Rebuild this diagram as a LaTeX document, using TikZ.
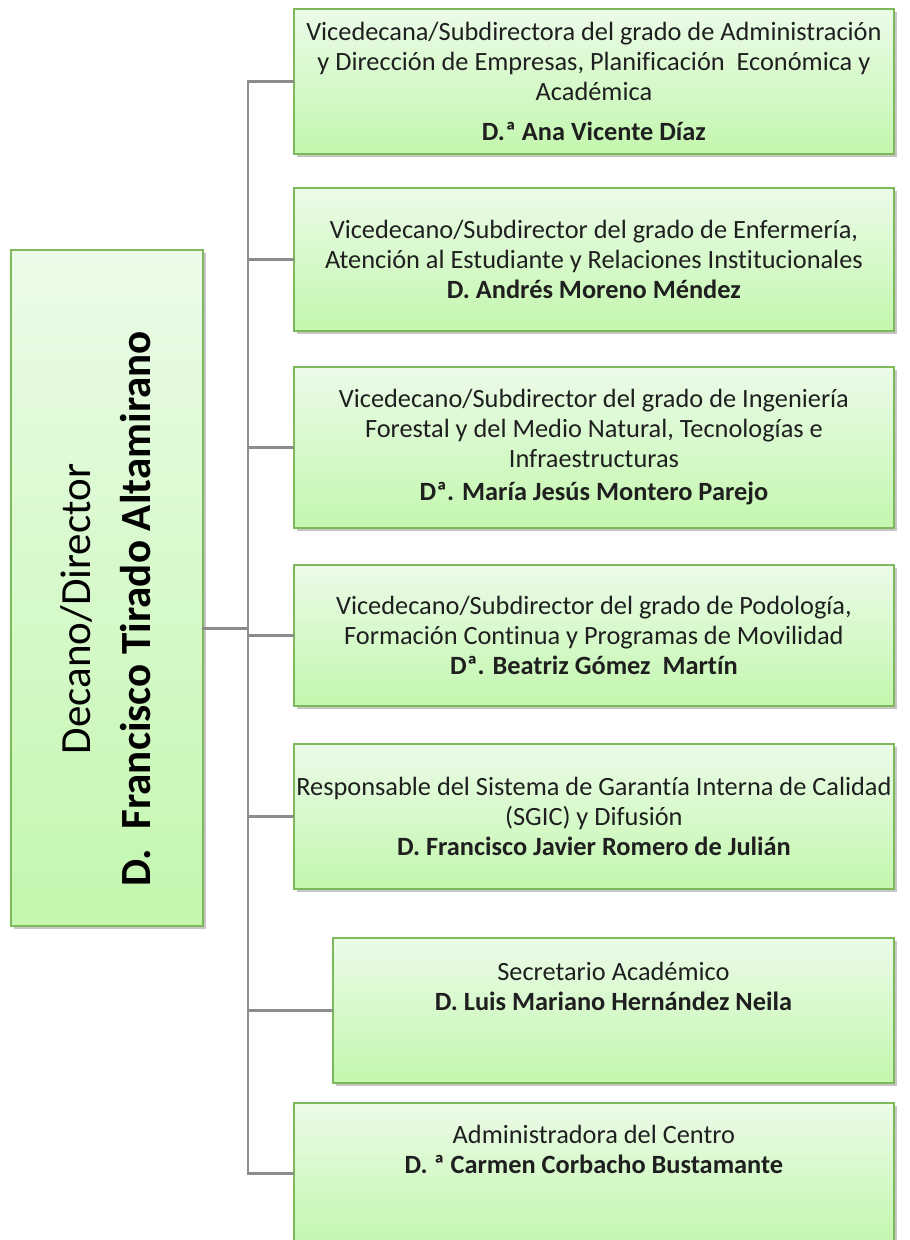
\documentclass[tikz,border=0pt]{standalone}
\usepackage{fontspec}
\setmainfont{Carlito}[Ligatures=NoCommon]
\usepackage{tikz}
\usetikzlibrary{shadows, calc, positioning}
\definecolor{boxtop}{HTML}{EBFBE8}
\definecolor{boxbottom}{HTML}{C3F7AE}
\definecolor{boxline}{HTML}{7DB85A}
\definecolor{linkgray}{HTML}{8C8C8C}
\tikzstyle{cargo} = [rectangle, draw=boxline, line width=1.1pt, top color=boxtop, bottom color=boxbottom, anchor=north west, minimum width=12cm, inner xsep=0pt, align=center, text=black!88, font=\fontsize{15}{17}\selectfont, drop shadow={shadow xshift=0.06cm, shadow yshift=-0.06cm, fill=black!50, opacity=0.45}]
\tikzstyle{link} = [draw=linkgray, line width=1.7pt, line cap=rect]

\begin{document}
\begin{tikzpicture}[x=0.02cm, y=-0.02cm]
		\useasboundingbox (0,0) rectangle (909,1240);
		
		\node (Decano) [cargo, minimum width=3.84cm, minimum height=13.52cm] at (10,249) {};
		\node (DecanoName) [rotate=90, align=center, font=\fontsize{24.5}{34}\selectfont] at ($(Decano.center)+(-1,21)$) {Decano/Director\\\textbf{D.\ \ Francisco Tirado Altamirano}};
		
		\node (ViceADE) [cargo, minimum height=2.9cm] at (293,8) {Vicedecana/Subdirectora del grado de Administración\\y Dirección de Empresas, Planificación\ \ Económica y\\Académica\\[6pt]\textbf{D.ª Ana Vicente Díaz}};
		\node (ViceEnfermeria) [cargo, minimum height=2.86cm] at (293,187) {Vicedecano/Subdirector del grado de Enfermería,\\Atención al Estudiante y Relaciones Institucionales\\\textbf{D. Andrés Moreno Méndez}};
		\node (ViceForestal) [cargo, minimum height=3.22cm] at (293,366) {Vicedecano/Subdirector del grado de Ingeniería\\Forestal y del Medio Natural, Tecnologías e\\Infraestructuras\\[2pt]\textbf{Dª. María Jesús Montero Parejo}};
		\node (VicePodologia) [cargo, minimum height=2.82cm] at (293,564) {Vicedecano/Subdirector del grado de Podología,\\Formación Continua y Programas de Movilidad\\\textbf{Dª. Beatriz Gómez\ \ Martín}};
		\node (Calidad) [cargo, minimum height=2.9cm] at (293,743) {Responsable del Sistema de Garantía Interna de Calidad\\(SGIC) y Difusión\\\textbf{D. Francisco Javier Romero de Julián}};
		\node (Secretario) [cargo, minimum width=11.22cm, minimum height=2.9cm] at (332,937) {Secretario Académico\\\textbf{D. Luis Mariano Hernández Neila}\\[5pt]\strut};
		\node (Administradora) [cargo, minimum height=2.82cm] at (293,1102) {Administradora del Centro\\\textbf{D. ª Carmen Corbacho Bustamante}\\[5pt]\strut};
		
		\coordinate (Spine) at (248,0);
		\coordinate (DecanoOut) at ($(Decano.east)+(0,41)$);
		
		\draw [link] (Spine |- ViceADE.west) -- (Spine |- Administradora.west);
		\draw [link] (DecanoOut) -- (Spine |- DecanoOut);
		\foreach \cargo in {ViceADE, ViceEnfermeria, ViceForestal, VicePodologia, Calidad, Secretario, Administradora}
			\draw [link] (Spine |- \cargo.west) -- (\cargo.west);
		
\end{tikzpicture}
\end{document}
